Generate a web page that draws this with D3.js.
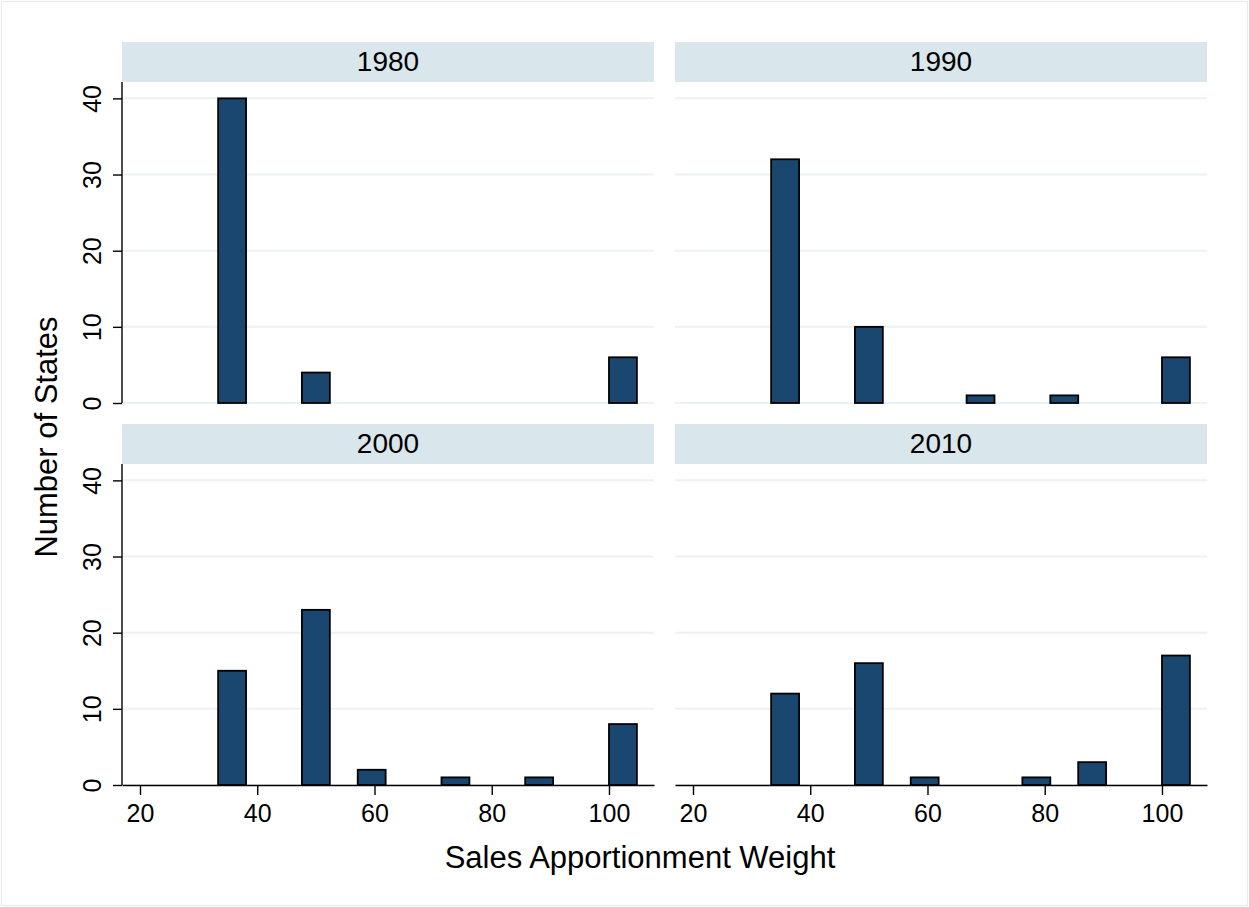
<html>
<head>
    <script src="https://cdn.jsdelivr.net/npm/d3@7"></script>
    <style>
        body { margin: 0; background: #fff; }
        text { font-family: "Liberation Sans", Arial, sans-serif; fill: #000; }
    </style>
</head>
<body>
    <script>
        // histogram bins (lower edge of each bin) and counts per decade
        var years = ['1980', '1990', '2000', '2010'];
        var binWidth = 4.762;
        var binEdges = [33.33, 38.10, 42.86, 47.62, 52.38, 57.14, 61.90, 66.67, 71.43, 76.19, 80.95, 85.71, 90.48, 95.24, 100.00];
        var counts1980 = [40, 0, 0, 4, 0, 0, 0, 0, 0, 0, 0, 0, 0, 0, 6];
        var counts1990 = [32, 0, 0, 10, 0, 0, 0, 1, 0, 0, 1, 0, 0, 0, 6];
        var counts2000 = [15, 0, 0, 23, 0, 2, 0, 0, 1, 0, 0, 1, 0, 0, 8];
        var counts2010 = [12, 0, 0, 16, 0, 1, 0, 0, 0, 1, 0, 3, 0, 0, 17];
        var xTicks = [20, 40, 60, 80, 100];
        var yTicks = [0, 10, 20, 30, 40];

        var allCounts = [counts1980, counts1990, counts2000, counts2010];

        var W = 1249, H = 907;
        var svg = d3.select('body').append('svg')
            .attr('width', W)
            .attr('height', H);

        // outer frame
        svg.append('rect')
            .attr('x', 1.5).attr('y', 1.5)
            .attr('width', W - 3).attr('height', H - 3)
            .attr('fill', 'none')
            .attr('stroke', '#e4ecee')
            .attr('stroke-width', 1.2);

        var panelW = 532;
        var colX = [122, 675];
        var stripTop = [42, 424];
        var stripH = 40;
        var plotH = 321;

        var x = d3.scaleLinear().domain([16.93, 107.68]).range([0, panelW]);
        var y = d3.scaleLinear().domain([0, 42.15]).range([plotH, 0]);

        years.forEach(function (yr, i) {
            var col = i % 2, row = Math.floor(i / 2);
            var g = svg.append('g')
                .attr('transform', 'translate(' + colX[col] + ',' + stripTop[row] + ')');

            // strip
            g.append('rect')
                .attr('width', panelW).attr('height', stripH)
                .attr('fill', '#d9e6ec');
            g.append('text')
                .attr('x', panelW / 2).attr('y', 29)
                .attr('text-anchor', 'middle')
                .attr('font-size', 28)
                .text(yr);

            var p = g.append('g').attr('transform', 'translate(0,' + stripH + ')');

            // gridlines
            p.selectAll('line.grid')
                .data(yTicks)
                .enter()
                .append('line')
                .attr('class', 'grid')
                .attr('x1', 0).attr('x2', panelW)
                .attr('y1', function (d) { return y(d); })
                .attr('y2', function (d) { return y(d); })
                .attr('stroke', '#eaf2f3')
                .attr('stroke-width', 2);

            // bars
            var data = binEdges.map(function (e, k) { return { lo: e, n: allCounts[i][k] }; })
                .filter(function (d) { return d.n > 0; });
            p.selectAll('rect.bar')
                .data(data)
                .enter()
                .append('rect')
                .attr('class', 'bar')
                .attr('x', function (d) { return x(d.lo); })
                .attr('width', function (d) { return x(d.lo + binWidth) - x(d.lo); })
                .attr('y', function (d) { return y(d.n); })
                .attr('height', function (d) { return y(0) - y(d.n); })
                .attr('fill', '#1a476f')
                .attr('stroke', '#000')
                .attr('stroke-width', 1.8);

            // y axis on left column
            if (col === 0) {
                var ya = p.append('g')
                    .call(d3.axisLeft(y).tickValues(yTicks).tickSize(9).tickSizeOuter(0).tickPadding(0));
                ya.select('.domain').attr('stroke-width', 1.4)
                    .attr('d', 'M0,0V' + plotH);
                ya.selectAll('.tick line').attr('stroke-width', 1.4);
                ya.selectAll('.tick text')
                    .attr('font-size', 25)
                    .attr('x', null).attr('dy', null)
                    .attr('text-anchor', 'middle')
                    .attr('transform', 'translate(-21,0) rotate(-90)');
            }

            // x axis on bottom row
            if (row === 1) {
                var xa = p.append('g')
                    .attr('transform', 'translate(0,' + plotH + ')')
                    .call(d3.axisBottom(x).tickValues(xTicks).tickSize(10).tickSizeOuter(0).tickPadding(9));
                xa.select('.domain').attr('stroke-width', 1.4);
                xa.selectAll('.tick line').attr('stroke-width', 1.4);
                xa.selectAll('.tick text').attr('font-size', 25);
            }
        });

        // axis titles
        svg.append('text')
            .attr('x', 640).attr('y', 868)
            .attr('text-anchor', 'middle')
            .attr('font-size', 31)
            .text('Sales Apportionment Weight');

        svg.append('text')
            .attr('transform', 'translate(57,437) rotate(-90)')
            .attr('text-anchor', 'middle')
            .attr('font-size', 31)
            .text('Number of States');
    </script>
</body>
</html>
